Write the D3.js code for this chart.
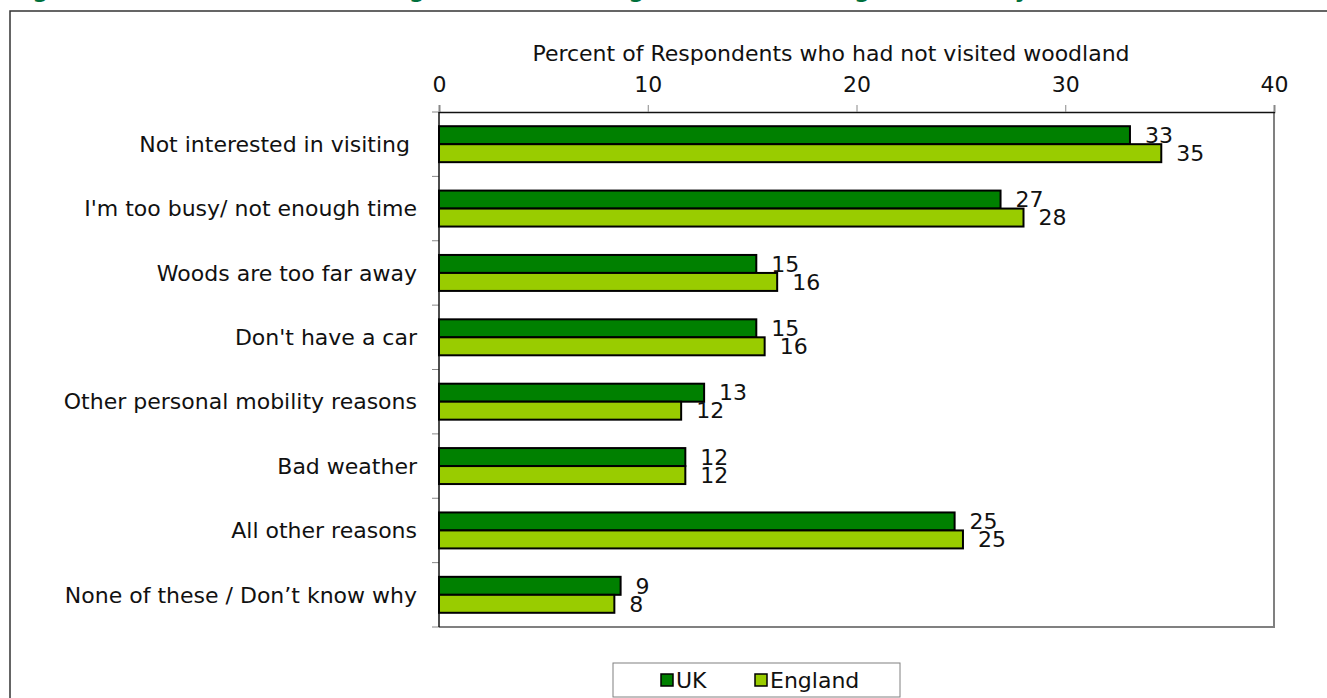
<!DOCTYPE html>
<html>
<head>
<meta charset="utf-8">
<script src="https://cdn.jsdelivr.net/npm/d3@7"></script>
<style>
  body { margin: 0; background: #fff; }
  text { font-family: "DejaVu Sans", Verdana, sans-serif; fill: #111; }
</style>
</head>
<body>
<div id="chart"></div>
<script>
let categories = [
    "Not interested in visiting ",
    "I'm too busy/ not enough time",
    "Woods are too far away",
    "Don't have a car",
    "Other personal mobility reasons",
    "Bad weather",
    "All other reasons",
    "None of these / Don\u2019t know why"
];
let seriesNames = ["UK", "England"];
let ukValues = [33.1, 26.9, 15.2, 15.2, 12.7, 11.8, 24.7, 8.7];
let englandValues = [34.6, 28.0, 16.2, 15.6, 11.6, 11.8, 25.1, 8.4];
let xTicks = [0, 10, 20, 30, 40];
let colors = ["#008000", "#99cc00"];

let width = 1327, height = 698;
let fontSize = 22;

let svg = d3.select("#chart").append("svg")
    .attr("width", width)
    .attr("height", height);

// cut-off title at the top of the frame
svg.append("text")
    .attr("x", 10)
    .attr("y", -2)
    .attr("font-size", 22)
    .attr("font-weight", "bold")
    .style("fill", "#00703c")
    .text("Figure 9: Reasons for not visiting woodland among those not visiting in last few years");

// outer frame (left + top edges only are visible)
svg.append("path")
    .attr("d", "M10," + height + "V11H" + width)
    .attr("fill", "none")
    .attr("stroke", "#333")
    .attr("stroke-width", 1.5);

let x = d3.scaleLinear().domain([0, 40]).range([439, 1274]);
let y = d3.scaleBand().domain(categories).range([112, 627]).paddingInner(0);
let y1 = d3.scaleBand().domain(seriesNames).range([0, y.bandwidth()]).paddingOuter(0.79).paddingInner(0);

let rows = categories.map(function (c, i) {
    return { name: c, values: [ukValues[i], englandValues[i]] };
});

// plot frame: right and bottom in grey
svg.append("path")
    .attr("d", "M" + x(40) + "," + y.range()[0] + "V" + y.range()[1] + "H" + x(0))
    .attr("fill", "none")
    .attr("stroke", "#808080")
    .attr("stroke-width", 2);

// top axis
let xAxis = d3.axisTop(x).tickValues(xTicks).tickSize(7).tickPadding(13);
let gx = svg.append("g")
    .attr("transform", "translate(0," + y.range()[0] + ")")
    .call(xAxis);
gx.select(".domain").attr("stroke", "#111").attr("stroke-width", 1.5);
gx.selectAll(".tick line").attr("stroke", "#888");
gx.selectAll(".tick text")
    .attr("font-size", fontSize)
    .attr("font-family", "DejaVu Sans, Verdana, sans-serif")
    .style("fill", "#111");

svg.append("text")
    .attr("x", 831)
    .attr("y", 61)
    .attr("text-anchor", "middle")
    .attr("font-size", fontSize)
    .text("Percent of Respondents who had not visited woodland");

// left axis with ticks at category boundaries
let yEdges = d3.range(categories.length + 1).map(function (i) {
    return y.range()[0] + i * y.step();
});
svg.append("g")
    .selectAll("line")
    .data(yEdges)
    .enter().append("line")
    .attr("x1", x(0) - 7)
    .attr("x2", x(0))
    .attr("y1", function (d) { return d; })
    .attr("y2", function (d) { return d; })
    .attr("stroke", "#888");
svg.append("line")
    .attr("x1", x(0)).attr("x2", x(0))
    .attr("y1", y.range()[0]).attr("y2", y.range()[1])
    .attr("stroke", "#111")
    .attr("stroke-width", 1.5);

svg.append("g")
    .selectAll("text")
    .data(categories)
    .enter().append("text")
    .attr("x", 417)
    .attr("y", function (d) { return y(d) + y.bandwidth() / 2; })
    .attr("dy", "0.35em")
    .attr("text-anchor", "end")
    .attr("font-size", fontSize)
    .style("white-space", "pre")
    .attr("xml:space", "preserve")
    .text(function (d) { return d; });

// bars
let groups = svg.append("g")
    .selectAll("g")
    .data(rows)
    .enter().append("g")
    .attr("transform", function (d) { return "translate(0," + y(d.name) + ")"; });

groups.selectAll("rect")
    .data(function (d) { return d.values; })
    .enter().append("rect")
    .attr("x", x(0))
    .attr("y", function (d, i) { return y1(seriesNames[i]); })
    .attr("width", function (d) { return x(d) - x(0); })
    .attr("height", y1.bandwidth())
    .attr("fill", function (d, i) { return colors[i]; })
    .attr("stroke", "#000")
    .attr("stroke-width", 2);

let fmt = d3.format(".0f");
groups.selectAll("text")
    .data(function (d) { return d.values; })
    .enter().append("text")
    .attr("x", function (d) { return x(d) + 15; })
    .attr("y", function (d, i) { return y1(seriesNames[i]) + y1.bandwidth() / 2; })
    .attr("dy", "0.35em")
    .attr("font-size", fontSize)
    .text(function (d) { return fmt(d); });

// legend
let legend = svg.append("g").attr("transform", "translate(613,663)");
legend.append("rect")
    .attr("width", 287)
    .attr("height", 34)
    .attr("fill", "#fff")
    .attr("stroke", "#808080");
let legendX = [48, 142];
seriesNames.forEach(function (s, i) {
    legend.append("rect")
        .attr("x", legendX[i])
        .attr("y", 11)
        .attr("width", 12)
        .attr("height", 12)
        .attr("fill", colors[i])
        .attr("stroke", "#000")
        .attr("stroke-width", 1.5);
    legend.append("text")
        .attr("x", legendX[i] + 15)
        .attr("y", 17)
        .attr("dy", "0.35em")
        .attr("font-size", fontSize)
        .text(s);
});
</script>
</body>
</html>
